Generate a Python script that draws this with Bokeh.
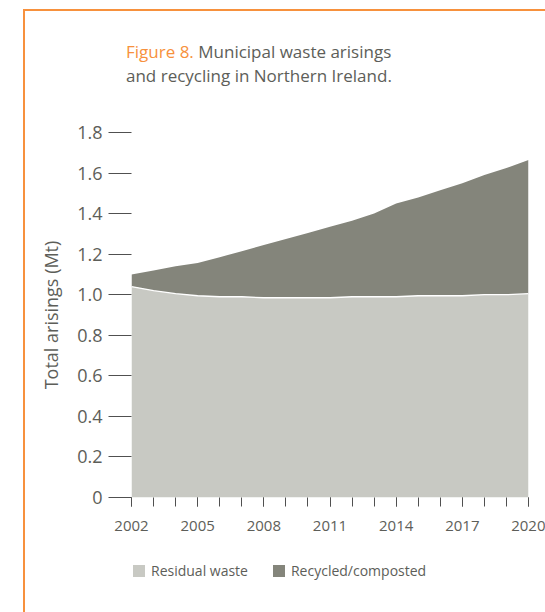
from bokeh.plotting import figure
from bokeh.layouts import column
from bokeh.models import (Range1d, FixedTicker, CustomJSTickFormatter, Legend, Div,
                          LegendItem, ColumnDataSource, InlineStyleSheet)
from bokeh.embed import file_html
from bokeh.resources import INLINE

# ---------------- data ----------------
years = list(range(2002, 2021))
residual = [1.04, 1.02, 1.005, 0.995, 0.99, 0.99, 0.985, 0.985, 0.985, 0.985,
            0.99, 0.99, 0.99, 0.995, 0.995, 0.995, 1.0, 1.0, 1.005]
recycled = [0.06, 0.10, 0.135, 0.162, 0.195, 0.225, 0.26, 0.29, 0.32, 0.35,
            0.375, 0.41, 0.46, 0.485, 0.52, 0.555, 0.59, 0.625, 0.66]
x_label_years = [2002, 2005, 2008, 2011, 2014, 2017, 2020]
y_ticks = [0, 0.2, 0.4, 0.6, 0.8, 1.0, 1.2, 1.4, 1.6, 1.8]
series_names = ["Residual waste", "Recycled/composted"]
title_fig = "Figure 8."
title_rest1 = "Municipal waste arisings"
title_rest2 = "and recycling in Northern Ireland."
y_label = "Total arisings (Mt)"

# ---------------- style ----------------
C_RES = "#c8c9c3"
C_REC = "#84857b"
ORANGE = "#f7913d"
TXT = "#5d5e59"
TICK = "#505050"
FONT = "Open Sans"
HEAD_H = 110
PLOT_H = 435
LEG_H = 612 - HEAD_H - PLOT_H

title_html = (
    '<div style="position:absolute;left:126px;top:40px;white-space:nowrap;'
    'font-family:\'Open Sans\';font-size:17px;line-height:24px;color:' + TXT + ';">'
    '<span style="color:' + ORANGE + ';">' + title_fig + '</span> ' + title_rest1 +
    '<br>' + title_rest2 + '</div>')
head = Div(text=title_html, width=545, height=HEAD_H, margin=0)

src = ColumnDataSource(dict(year=years, residual=residual, recycled=recycled))

p = figure(width=545, height=PLOT_H, output_backend="svg", toolbar_location=None,
           x_range=Range1d(2002, 2020), y_range=Range1d(0, 1.8),
           min_border_left=131, min_border_right=17, min_border_top=132 - HEAD_H,
           min_border_bottom=HEAD_H + PLOT_H - 497, margin=0)
p.outline_line_color = None
p.grid.visible = False
p.background_fill_color = "white"
p.border_fill_color = "white"

rs = p.varea_stack(stackers=["residual", "recycled"], x="year", source=src,
                   color=[C_RES, C_REC])
p.line("year", "residual", source=src, color="white", line_width=1.3)

# y axis
ya = p.yaxis[0]
ya.ticker = FixedTicker(ticks=y_ticks)
ya.formatter = CustomJSTickFormatter(code="return tick == 0 ? '0' : tick.toFixed(1);")
ya.axis_line_color = None
ya.major_tick_in = 0
ya.major_tick_out = 23
ya.minor_tick_out = 0
ya.minor_tick_in = 0
ya.major_tick_line_color = TICK
ya.major_label_standoff = 6
ya.major_label_text_font = FONT
ya.major_label_text_font_size = "18px"
ya.major_label_text_color = TXT
ya.axis_label = y_label
ya.axis_label_text_font = FONT
ya.axis_label_text_font_size = "18px"
ya.axis_label_text_font_style = "normal"
ya.axis_label_text_color = TXT
ya.axis_label_standoff = 11

# x axis
xa = p.xaxis[0]
xa.ticker = FixedTicker(ticks=x_label_years, minor_ticks=years)
xa.axis_line_color = None
xa.major_tick_in = 0
xa.major_tick_out = 9
xa.minor_tick_in = 0
xa.minor_tick_out = 9
xa.major_tick_line_color = TICK
xa.minor_tick_line_color = TICK
xa.major_label_standoff = 14
xa.major_label_text_font = FONT
xa.major_label_text_font_size = "15px"
xa.major_label_text_color = TXT

# legend strip: its own small figure whose swatches come from the same series
pl = figure(width=545, height=LEG_H, output_backend="svg", toolbar_location=None,
            x_range=Range1d(0, 1), y_range=Range1d(0, 1), x_axis_type=None,
            y_axis_type=None, min_border=0, margin=0)
pl.outline_line_color = None
pl.grid.visible = False
pl.border_fill_color = "white"
rl = pl.varea_stack(stackers=["residual", "recycled"], x="year", source=src,
                    color=[C_RES, C_REC])
legend = Legend(items=[LegendItem(label=series_names[0], renderers=[rl[0]]),
                       LegendItem(label=series_names[1], renderers=[rl[1]])],
                location=(0, 32), orientation="horizontal")
legend.border_line_color = None
legend.background_fill_alpha = 0
legend.padding = 0
legend.margin = 0
legend.spacing = 23
legend.glyph_width = 15
legend.glyph_height = 15
legend.label_height = 15
legend.label_standoff = 5
legend.label_text_font = FONT
legend.label_text_font_size = "14px"
legend.label_text_color = TXT
pl.add_layout(legend)

layout = column(head, p, pl, spacing=0, margin=0)
css = InlineStyleSheet(css=(
    ":host{position:relative;overflow:visible;}"
    ":host::after{content:'';position:absolute;left:23px;top:9px;width:522px;height:603px;"
    "border-top:2px solid " + ORANGE + ";border-left:2px solid " + ORANGE + ";"
    "pointer-events:none;box-sizing:border-box;z-index:5;}"))
layout.stylesheets = [css]

open("out.html", "w").write(file_html(layout, INLINE))
